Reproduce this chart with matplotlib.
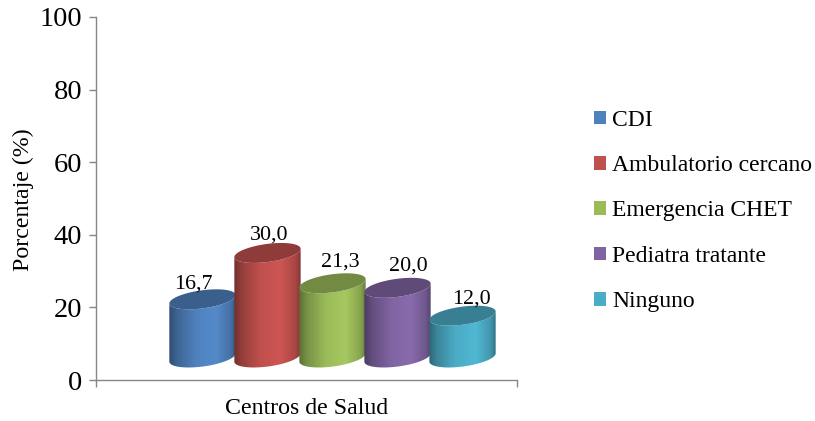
import matplotlib
matplotlib.use("Agg")
import matplotlib.pyplot as plt
import numpy as np
from matplotlib.patches import Patch, Polygon

plt.rcParams["font.family"] = ["Liberation Serif", "DejaVu Serif"]

categorias = ["CDI", "Ambulatorio cercano", "Emergencia CHET", "Pediatra tratante", "Ninguno"]
valores = [16.7, 30.0, 21.3, 20.0, 12.0]
etiquetas = ["16,7", "30,0", "21,3", "20,0", "12,0"]
colores = ["#4F81BD", "#C0504D", "#9BBB59", "#8064A2", "#4BACC6"]
y_ticks = [0, 20, 40, 60, 80, 100]

W, H = 815, 421
GRIS = "#868686"

fig = plt.figure(figsize=(W / 100, H / 100), dpi=100)
ax = fig.add_axes([96 / W, 1 - 380 / H, 421 / W, 363 / H])

# cylinder geometry, x in bar widths and y in percent
BASE = 6.2       # floor of the fake 3D box
DEPTH = 0.96     # perspective squeeze of the heights
A = 0.51         # half width
B = 2.5          # half height of the ellipse
SHEAR = 1.15     # tilt of the ellipse from centre to edge
t_top = np.linspace(0, 2 * np.pi, 80)
t_front = np.linspace(np.pi, 2 * np.pi, 40)


def ellipse(cx, cy, t):
    c = np.cos(t)
    return np.column_stack([cx + A * c, cy + B * np.sin(t) + SHEAR * c])


def shade(color):
    rgb = np.array(matplotlib.colors.to_rgb(color))
    u = np.linspace(0, 1, 128)
    k = np.interp(u, [0, 0.12, 0.4, 0.7, 0.92, 1], [0.6, 0.78, 1.0, 1.07, 0.88, 0.68])
    return np.clip(rgb[None, None, :] * k[None, :, None], 0, 1)


for i, (v, color) in enumerate(zip(valores, colores)):
    z = 3 + i
    top = BASE + DEPTH * v
    low = ellipse(i, BASE, t_front)
    up = ellipse(i, top, t_front)[::-1]
    body = Polygon(np.vstack([low, up]), closed=True, transform=ax.transData,
                   fc="none", ec="none")
    ax.add_patch(body)
    im = ax.imshow(shade(color), extent=[i - A, i + A, 0, 100], aspect="auto",
                   zorder=z, interpolation="bilinear")
    im.set_clip_path(body)
    ax.add_patch(Polygon(ellipse(i, top, t_top), closed=True,
                         fc=np.array(matplotlib.colors.to_rgb(color)) * 0.74,
                         ec="none", zorder=z + 0.1))

# labels sit a bit off the cylinder centre in the original
off_x = [-9, 2, 8, 11, 9]
off_y = [15, 18, 21, 22, 17]
for i, v in enumerate(valores):
    ax.annotate(etiquetas[i], xy=(i, BASE + DEPTH * v), xytext=(off_x[i] * 0.72, off_y[i] * 0.72),
                textcoords="offset points", ha="center", va="center",
                fontsize=15.8, color="black", zorder=20)

ax.set_xlim(-1.638, 4.838)
ax.set_ylim(0, 100)
ax.set_yticks(y_ticks)
ax.set_xticks([-1.638, 4.838])
ax.set_xticklabels([])
ax.tick_params(axis="both", length=5, width=1, color=GRIS)
ax.tick_params(axis="y", labelsize=20.5, pad=5)
for s in ["top", "right"]:
    ax.spines[s].set_visible(False)
for s in ["left", "bottom"]:
    ax.spines[s].set_color(GRIS)
    ax.spines[s].set_linewidth(1)

fig.text(23 / W, 1 - 200 / H, "Porcentaje (%)", rotation=90, ha="center", va="center", fontsize=17.2)
fig.text(306.5 / W, 1 - 409 / H, "Centros de Salud", ha="center", va="center", fontsize=17.2)

handles = [Patch(fc=c, ec="none") for c in colores]
fig.legend(handles, categorias, loc="center left", bbox_to_anchor=(587 / W, 1 - 211 / H),
           frameon=False, fontsize=17, handlelength=0.52, handleheight=0.52,
           handletextpad=0.25, labelspacing=1.03, borderpad=0, borderaxespad=0.3)

fig.savefig("out.png", dpi=100)
